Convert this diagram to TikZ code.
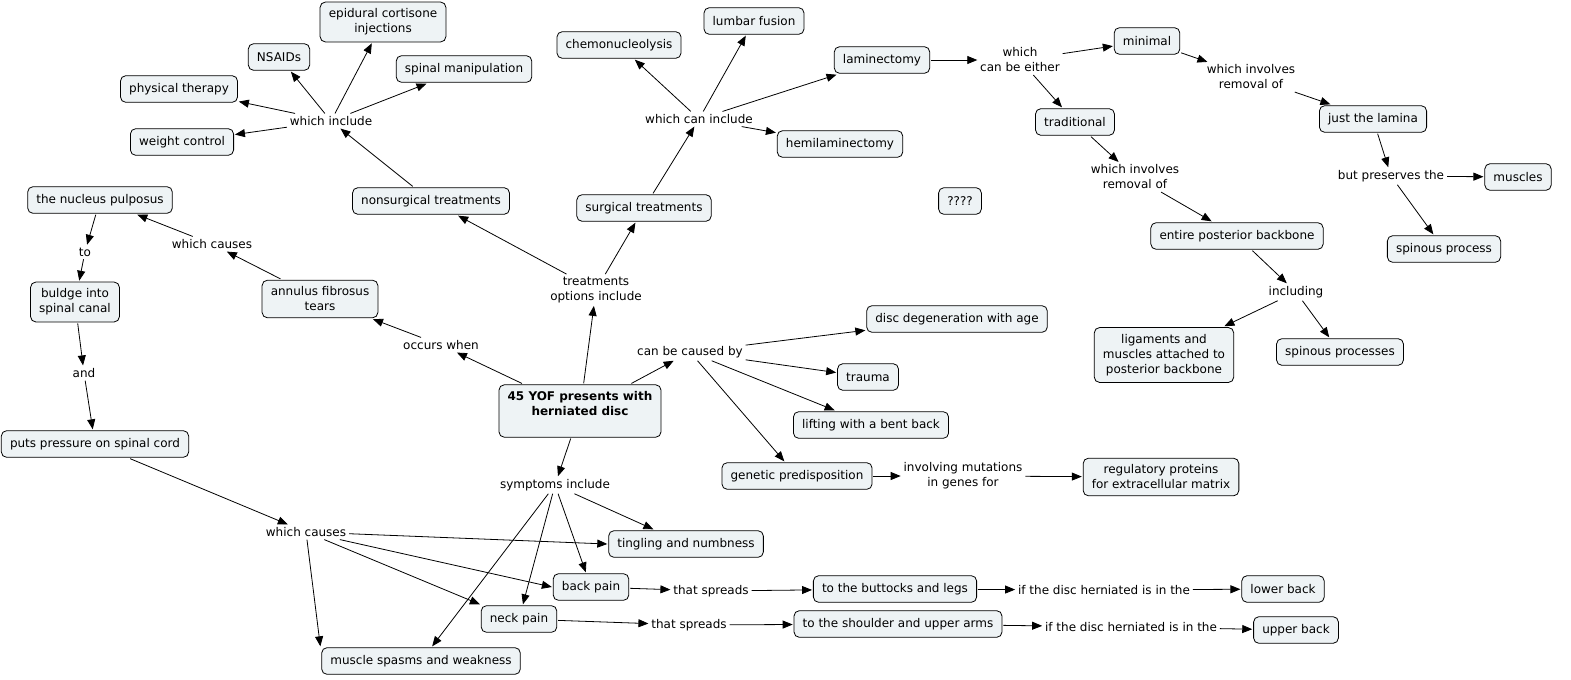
\documentclass[tikz,border=0pt]{standalone}
\usepackage{fontspec}
\setmainfont{DejaVu Sans}
\usepackage{tikz}
\usetikzlibrary{arrows.meta}
\usepackage{xcolor}
\definecolor{cmapfill}{RGB}{238,243,245}
\newcommand{\cmapfont}{\fontsize{9}{11.25}\selectfont}

\begin{document}
\begin{tikzpicture}[x=0.75pt, y=-0.75pt,
  concept/.style={draw, rounded corners=4pt, fill=cmapfill, font=\cmapfont, align=center, inner xsep=6.5pt, inner ysep=5pt, minimum height=20pt, outer sep=1pt, line width=0.6pt},
  phrase/.style={font=\cmapfont, align=center, inner sep=2pt},
  link/.style={-{Triangle[length=7.5pt,width=6pt]}, line width=0.6pt},
]
\useasboundingbox (0,0) rectangle (1571,679);

% Central concept
\node[concept, font=\cmapfont\bfseries] (yof) at (580,411) {45 YOF presents with\\herniated disc\\\mbox{}};

% Nonsurgical treatments
\node[concept] (epidural) at (383,22) {epidural cortisone\\injections};
\node[concept] (nsaids) at (279,57) {NSAIDs};
\node[concept] (spinalman) at (464,69) {spinal manipulation};
\node[concept] (physio) at (179,89) {physical therapy};
\node[concept] (weight) at (182,142) {weight control};
\node[phrase] (whinc) at (331,121) {which include};
\node[concept] (nonsurg) at (431,201) {nonsurgical treatments};
\node[phrase] (treatopt) at (596,290) {treatments\\options include};

% Surgical treatments
\node[concept] (surg) at (644,208) {surgical treatments};
\node[phrase] (whcaninc) at (699,119) {which can include};
\node[concept] (chemo) at (619,45) {chemonucleolysis};
\node[concept] (lumbar) at (754,21) {lumbar fusion};
\node[concept] (lamin) at (882,60) {laminectomy};
\node[concept] (hemilam) at (840,144) {hemilaminectomy};
\node[concept] (unknown) at (960,201) {????};

% Laminectomy types
\node[phrase] (either) at (1020,60) {which\\can be either};
\node[concept] (minimal) at (1147,41) {minimal};
\node[concept] (trad) at (1075,122) {traditional};
\node[phrase] (remmin) at (1251,77) {which involves\\removal of};
\node[concept] (lamina) at (1373,119) {just the lamina};
\node[phrase] (preserve) at (1391,176) {but preserves the};
\node[concept] (muscles) at (1518,177) {muscles};
\node[concept] (spinproc) at (1444,249) {spinous process};
\node[phrase] (remtrad) at (1135,177) {which involves\\removal of};
\node[concept] (entire) at (1237,236) {entire posterior backbone};
\node[phrase] (including) at (1296,292) {including};
\node[concept] (ligam) at (1164,355) {ligaments and\\muscles attached to\\posterior backbone};
\node[concept] (spinprocs) at (1340,352) {spinous processes};

% Pathology
\node[phrase] (occurs) at (441,345) {occurs when};
\node[concept] (annulus) at (320,299) {annulus fibrosus\\tears};
\node[phrase] (whcaus) at (212,244) {which causes};
\node[concept] (nucleus) at (100,200) {the nucleus pulposus};
\node[phrase] (to) at (85,252) {to};
\node[concept] (bulge) at (75,302) {buldge into\\spinal canal};
\node[phrase] (and) at (84,373) {and};
\node[concept] (pressure) at (95,444) {puts pressure on spinal cord};

% Causes
\node[phrase] (causedby) at (690,352) {can be caused by};
\node[concept] (degen) at (957,319) {disc degeneration with age};
\node[concept] (trauma) at (868,377) {trauma};
\node[concept] (lifting) at (871,425) {lifting with a bent back};
\node[concept] (genetic) at (797,476) {genetic predisposition};
\node[phrase] (mutations) at (963,476) {involving mutations\\in genes for};
\node[concept] (regprot) at (1161,477) {regulatory proteins\\for extracellular matrix};

% Symptoms
\node[phrase] (symptoms) at (555,485) {symptoms include};
\node[phrase] (whcaus2) at (306,532) {which causes};
\node[concept] (tingling) at (686,544) {tingling and numbness};
\node[concept] (backpain) at (591,587) {back pain};
\node[concept] (neckpain) at (519,619) {neck pain};
\node[concept] (spasms) at (421,661) {muscle spasms and weakness};
\node[phrase] (spreads1) at (711,591) {that spreads};
\node[concept] (buttocks) at (895,589) {to the buttocks and legs};
\node[phrase] (ifdisc1) at (1104,590) {if the disc herniated is in the};
\node[concept] (lowerback) at (1283,589) {lower back};
\node[phrase] (spreads2) at (689,625) {that spreads};
\node[concept] (shoulder) at (898,624) {to the shoulder and upper arms};
\node[phrase] (ifdisc2) at (1131,627) {if the disc herniated is in the};
\node[concept] (upperback) at (1296,630) {upper back};

% Connectors
\draw[link] (yof) -- (treatopt);
\draw[link] (treatopt) -- (nonsurg);
\draw[link] (treatopt) -- (surg);
\draw[link] (nonsurg) -- (whinc);
\draw[link] (whinc) -- (epidural);
\draw[link] (whinc) -- (nsaids);
\draw[link] (whinc) -- (spinalman);
\draw[link] (whinc) -- (physio);
\draw[link] (whinc) -- (weight);
\draw[link] (surg) -- (whcaninc);
\draw[link] (whcaninc) -- (chemo);
\draw[link] (whcaninc) -- (lumbar);
\draw[link] (whcaninc) -- (lamin);
\draw[link] (whcaninc) -- (hemilam);
\draw[link] (lamin) -- (either);
\draw[link] (either) -- (minimal);
\draw[link] (either) -- (trad);
\draw[link] (minimal) -- (remmin);
\draw[link] (remmin) -- (lamina);
\draw[link] (lamina) -- (preserve);
\draw[link] (preserve) -- (muscles);
\draw[link] (preserve) -- (spinproc);
\draw[link] (trad) -- (remtrad);
\draw[link] (remtrad) -- (entire);
\draw[link] (entire) -- (including);
\draw[link] (including) -- (ligam);
\draw[link] (including) -- (spinprocs);
\draw[link] (yof) -- (occurs);
\draw[link] (occurs) -- (annulus);
\draw[link] (annulus) -- (whcaus);
\draw[link] (whcaus) -- (nucleus);
\draw[link] (nucleus) -- (to);
\draw[link] (to) -- (bulge);
\draw[link] (bulge) -- (and);
\draw[link] (and) -- (pressure);
\draw[link] (yof) -- (causedby);
\draw[link] (causedby) -- (degen);
\draw[link] (causedby) -- (trauma);
\draw[link] (causedby) -- (lifting);
\draw[link] (causedby) -- (genetic);
\draw[link] (genetic) -- (mutations);
\draw[link] (mutations) -- (regprot);
\draw[link] (yof) -- (symptoms);
\draw[link] (symptoms) -- (tingling);
\draw[link] (symptoms) -- (backpain);
\draw[link] (symptoms) -- (neckpain);
\draw[link] (symptoms) -- (spasms);
\draw[link] (pressure) -- (whcaus2);
\draw[link] (whcaus2) -- (tingling.west);
\draw[link] (whcaus2) -- (backpain.west);
\draw[link] (whcaus2) -- (neckpain.north west);
\draw[link] (whcaus2) -- (spasms.north west);
\draw[link] (backpain) -- (spreads1);
\draw[link] (spreads1) -- (buttocks);
\draw[link] (buttocks) -- (ifdisc1);
\draw[link] (ifdisc1) -- (lowerback);
\draw[link] (neckpain) -- (spreads2);
\draw[link] (spreads2) -- (shoulder);
\draw[link] (shoulder) -- (ifdisc2);
\draw[link] (ifdisc2) -- (upperback);

\end{tikzpicture}
\end{document}
